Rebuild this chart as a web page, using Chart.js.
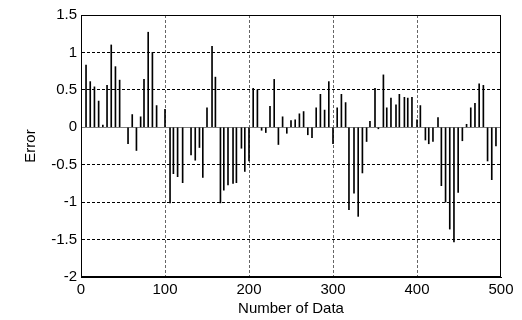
<!DOCTYPE html>
<html>
<head>
<meta charset="utf-8">
<script src="https://cdn.jsdelivr.net/npm/chart.js@4.4.1/dist/chart.umd.min.js"></script>
<style>
  html, body { margin: 0; padding: 0; background: #fff; }
  #wrap { width: 522px; height: 320px; }
</style>
</head>
<body>
<div id="wrap"><canvas id="c" width="522" height="320"></canvas></div>
<script>
// Data index (x) and error value (y) for each stem
const dataIndex = [
  6, 11, 16, 21, 26, 31, 36, 41, 46, 56, 61, 66, 71, 75, 80, 85, 90, 100,
  106, 110, 115, 121, 131, 136, 141, 145, 150, 156, 160, 166, 170, 175, 181, 185,
  191, 195, 200, 205, 210, 215, 220, 225, 230, 235, 240, 245, 250, 255, 260, 265,
  270, 275, 280, 285, 290, 295, 300, 305, 310, 315, 319, 325, 330, 335, 340, 344,
  350, 354, 360, 364, 369, 375, 379, 385, 389, 394, 400, 404, 410, 414, 419, 425,
  429, 434, 439, 444, 449, 454, 459, 464, 469, 474, 479, 484, 489, 494
];
const errorValues = [
  0.83, 0.61, 0.54, 0.35, 0.03, 0.56, 1.10, 0.81, 0.63, -0.22, 0.17, -0.31, 0.14, 0.64, 1.27, 1.00, 0.29, 0.24,
  -1.01, -0.62, -0.66, -0.74, -0.37, -0.44, -0.27, -0.67, 0.26, 1.08, 0.67, -1.01, -0.84, -0.77, -0.75, -0.74,
  -0.28, -0.59, -0.45, 0.52, 0.50, -0.04, -0.07, 0.28, 0.64, -0.23, 0.14, -0.08, 0.09, 0.10, 0.18, 0.21,
  -0.10, -0.14, 0.26, 0.44, 0.23, 0.61, -0.22, 0.26, 0.44, 0.33, -1.10, -0.88, -1.19, -0.61, -0.19, 0.08,
  0.52, -0.02, 0.70, 0.26, 0.39, 0.30, 0.44, 0.40, 0.39, 0.40, 0.10, 0.29, -0.17, -0.22, -0.19, 0.13,
  -0.78, -1.00, -1.36, -1.53, -0.87, -0.18, 0.04, 0.26, 0.32, 0.58, 0.56, -0.45, -0.70, -0.25
];
const xTicks = [0, 100, 200, 300, 400, 500];
const yTicks = [-2, -1.5, -1, -0.5, 0, 0.5, 1, 1.5];
const xTitle = 'Number of Data';
const yTitle = 'Error';

const points = dataIndex.map((x, i) => ({ x: x, y: errorValues[i] }));

const boxPlugin = {
  id: 'box',
  afterDraw(chart) {
    const a = chart.chartArea;
    const ctx = chart.ctx;
    ctx.save();
    ctx.strokeStyle = '#000';
    ctx.lineWidth = 1;
    ctx.strokeRect(Math.round(a.left) + 0.5, Math.round(a.top) + 0.5,
                   Math.round(a.right - a.left) - 1, Math.round(a.bottom - a.top) - 1);
    ctx.restore();
  }
};

const font = { family: '"Liberation Sans", Arial, sans-serif', size: 15 };

new Chart(document.getElementById('c'), {
  type: 'bar',
  data: {
    datasets: [{
      data: points,
      backgroundColor: '#000',
      borderWidth: 0,
      barThickness: 1
    }]
  },
  plugins: [boxPlugin],
  options: {
    responsive: false,
    animation: false,
    devicePixelRatio: 1,
    layout: { padding: { top: 15, right: 21, left: 0, bottom: 0 } },
    plugins: { legend: { display: false }, tooltip: { enabled: false } },
    scales: {
      x: {
        type: 'linear',
        offset: false,
        min: 0, max: 500,
        afterBuildTicks: s => { s.ticks = xTicks.map(v => ({ value: v })); },
        afterFit: s => { s.height = 43; },
        ticks: { color: '#000', font: font, padding: 4, maxRotation: 0, callback: v => String(v) },
        grid: {
          offset: false,
          drawTicks: false,
          color: c => (c.tick && (c.tick.value === 0 || c.tick.value === 500)) ? 'rgba(0,0,0,0)' : '#666',
          lineWidth: 1
        },
        border: { display: true, color: '#000', dash: [3, 2] },
        title: { display: true, text: xTitle, color: '#000', font: font, padding: { top: 0, bottom: 2 } }
      },
      y: {
        min: -2, max: 1.5,
        afterBuildTicks: s => { s.ticks = yTicks.map(v => ({ value: v })); },
        afterFit: s => { s.width = 81; },
        ticks: { color: '#000', font: font, padding: 4, callback: v => String(v) },
        grid: {
          drawTicks: false,
          color: c => {
            if (!c.tick) return '#000';
            if (c.tick.value === -2 || c.tick.value === 1.5) return 'rgba(0,0,0,0)';
            if (c.tick.value === 0) return '#808080';
            return '#000';
          },
          lineWidth: 1
        },
        border: {
          display: true, color: '#000',
          dash: c => (c.tick && c.tick.value === 0) ? [] : [3, 2]
        },
        title: { display: true, text: yTitle, color: '#000', font: font, padding: { top: 22, bottom: 0 } }
      }
    }
  }
});
</script>
</body>
</html>
